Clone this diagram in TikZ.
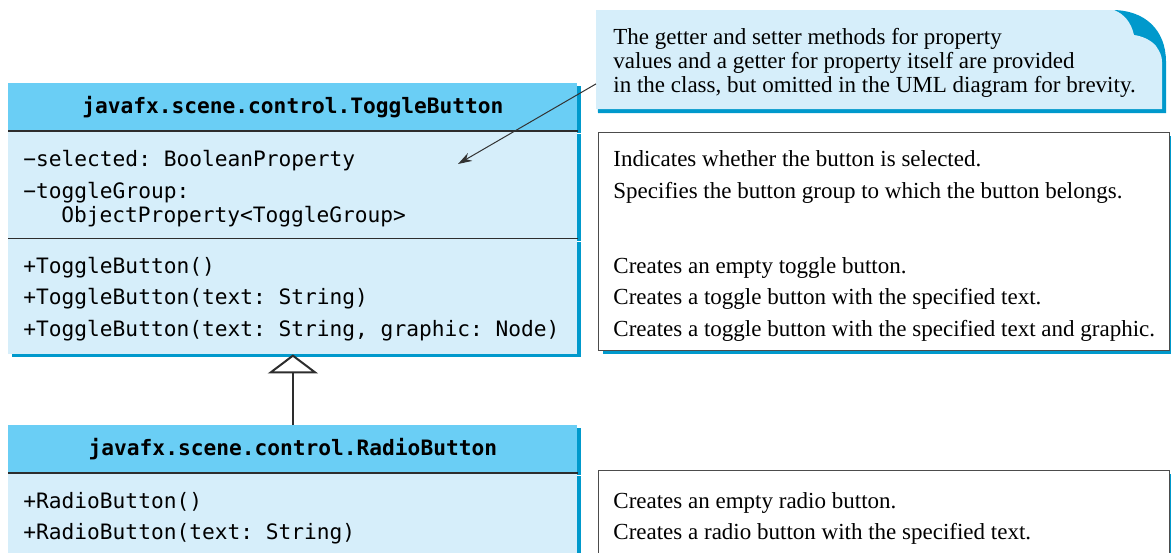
\documentclass[tikz,border=0pt]{standalone}
\usepackage{fontspec}
\setmainfont{Liberation Serif}
\setmonofont{DejaVu Sans Mono}
\usepackage{xcolor}
\usepackage{tikz}
\usetikzlibrary{arrows.meta,positioning,shadows}

\definecolor{headblue}{RGB}{106,206,245}
\definecolor{bodyblue}{RGB}{214,238,250}
\definecolor{edgeblue}{RGB}{0,153,204}
\definecolor{rulegray}{RGB}{45,45,45}

\begin{document}
\begin{tikzpicture}[x=0.5pt,y=-0.5pt,
  umlshadow/.style={drop shadow={shadow xshift=2pt,shadow yshift=-1.5pt,fill=edgeblue,opacity=1}},
  headbox/.style={rectangle,fill=headblue,umlshadow,minimum width=284.5pt,minimum height=23.5pt,inner sep=0pt,font=\fontsize{10.6}{12}\ttfamily\bfseries},
  bodybox/.style={rectangle,fill=bodyblue,umlshadow,minimum width=284.5pt,inner sep=0pt},
  descbox/.style={rectangle,draw=black!70,line width=0.6pt,fill=white,umlshadow,minimum width=285.5pt,inner sep=0pt},
  member/.style={anchor=base west,inner sep=0pt,font=\fontsize{10.6}{12}\ttfamily},
  desc/.style={anchor=base west,inner sep=0pt,font=\fontsize{11.5}{13}\selectfont},
  divider/.style={rulegray,line width=0.8pt},
  inherit/.style={-{Triangle[open,length=9.5pt,width=25pt]},line width=1pt,rulegray},
  notearrow/.style={-{Stealth[length=7pt,width=4.5pt]},black!80,line width=0.5pt}]
\useasboundingbox (0,0) rectangle (1171,552);
\clip (0,0) rectangle (1171,552);

% Note with curled corner.
\fill[edgeblue] (596,10) -- (1112,10) .. controls (1145,10) and (1166,30) .. (1166,62)
  -- (1166,113) -- (598,113) -- cycle;
\fill[bodyblue] (596,10) -- (1114,10) .. controls (1124,14) and (1131,22) .. (1134,35)
  .. controls (1142,36) and (1151,40) .. (1156,46) .. controls (1160,52) and (1162,56) .. (1162,62)
  -- (1162,109) -- (596,109) -- cycle;
\node[anchor=north west,minimum height=49.5pt,inner xsep=8.5pt,inner ysep=0pt,
  text width=275pt,align=flush left,font=\fontsize{11.5}{12}\selectfont] (note) at (596,13)
  {The getter and setter methods for property\\values and a getter for property itself are provided\\in the class, but omitted in the UML diagram for brevity.};

% ToggleButton class.
\node[headbox,anchor=north west] (tghead) at (8,83) {javafx.scene.control.ToggleButton};
\node[bodybox,minimum height=53.5pt,below=0pt of tghead] (tgattr) {};
\node[bodybox,minimum height=57.5pt,below=0pt of tgattr] (tgmeth) {};
\draw[divider] (tgattr.north west) -- (tgattr.north east);
\draw[divider] (tgmeth.north west) -- (tgmeth.north east);
\foreach \y/\txt [count=\i] in {166/{−selected: BooleanProperty},198/{−toggleGroup:}}
  \node[member] (tgattr\i) at (23,\y) {\txt};
\node[member] (tgattr3) at (61,222) {ObjectProperty<ToggleGroup>};
\foreach \y/\txt [count=\i] in {273/{+ToggleButton()},304/{+ToggleButton(text: String)},336/{+ToggleButton(text: String, graphic: Node)}}
  \node[member] (tgop\i) at (23,\y) {\txt};

% RadioButton class.
\node[headbox,anchor=north west] (rdhead) at (8,425) {javafx.scene.control.RadioButton};
\node[bodybox,minimum height=60pt,below=0pt of rdhead] (rdmeth) {};
\draw[divider] (rdmeth.north west) -- (rdmeth.north east);
\foreach \y/\txt [count=\i] in {508/{+RadioButton()},539/{+RadioButton(text: String)}}
  \node[member] (rdop\i) at (23,\y) {\txt};

% Descriptions.
\node[descbox,minimum height=109pt,anchor=north west] (tgdesc) at (598,132) {};
\foreach \y/\txt [count=\i] in {166/{Indicates whether the button is selected.},198/{Specifies the button group to which the button belongs.},273/{Creates an empty toggle button.},304/{Creates a toggle button with the specified text.},336/{Creates a toggle button with the specified text and graphic.}}
  \node[desc] (tgtxt\i) at (613,\y) {\txt};
\node[descbox,minimum height=50pt,anchor=north west] (rddesc) at (598,470) {};
\foreach \y/\txt [count=\i] in {508/{Creates an empty radio button.},539/{Creates a radio button with the specified text.}}
  \node[desc] (rdtxt\i) at (613,\y) {\txt};

% Connectors.
\coordinate (selpt) at (458,164);
\draw[notearrow] ([yshift=-10.5pt]note.west) -- (selpt);
\draw[inherit] (rdhead.north) -- (tgmeth.south);
\end{tikzpicture}
\end{document}
